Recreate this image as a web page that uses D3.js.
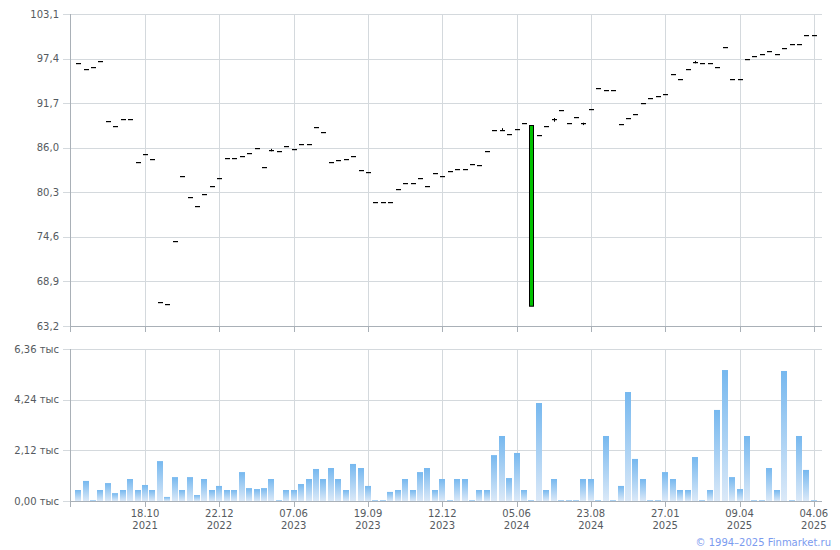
<!DOCTYPE html>
<html>
<head>
<meta charset="utf-8">
<script src="https://cdn.jsdelivr.net/npm/d3@7"></script>
<style>
  html, body { margin: 0; padding: 0; background: #fff; }
  svg { display: block; }
  text { font-family: "DejaVu Sans", Verdana, sans-serif; }
</style>
</head>
<body>
<svg id="chart" width="840" height="550"></svg>
<script>
// ---- data ----
const tickCategories = [9, 19, 29, 39, 49, 59, 69, 79, 89, 99];
const tickDates = ["18.10", "22.12", "07.06", "19.09", "12.12", "05.06", "23.08", "27.01", "09.04", "04.06"];
const tickYears = ["2021", "2022", "2023", "2023", "2023", "2024", "2024", "2025", "2025", "2025"];

const closes = [
  96.80, 96.07, 96.28, 97.09, 89.42, 88.74, 89.67, 89.67, 84.14, 85.16,
  84.52, 66.27, 65.98, 74.07, 82.38, 79.66, 78.51, 80.08, 81.10, 82.09,
  84.69, 84.69, 84.94, 85.28, 85.96, 83.54, 85.67, 85.58, 86.18, 85.80,
  86.44, 86.44, 88.65, 87.97, 84.14, 84.39, 84.52, 84.94, 83.11, 82.86,
  79.02, 79.02, 79.02, 80.68, 81.45, 81.45, 82.09, 81.10, 82.73, 82.38,
  83.00, 83.24, 83.24, 83.88, 83.75, 85.54, 88.23, 88.30, 87.71, 88.35,
  89.12, 88.87, 87.59, 88.74, 89.63, 90.82, 89.12, 89.89, 89.20, 90.95,
  93.60, 93.38, 93.38, 89.00, 89.76, 90.27, 91.68, 92.32, 92.58, 92.83,
  95.39, 94.75, 96.03, 96.92, 96.80, 96.80, 96.28, 98.84, 94.75, 94.75,
  97.31, 97.69, 97.95, 98.33, 97.95, 98.71, 99.23, 99.23, 100.38, 100.38
];
// opens equal closes except where a real body exists
const openOverrides = { 61: 65.76 };
// small wicks seen on a few candles
const highOverrides = { 26: 85.85, 57: 88.50, 64: 89.80, 68: 89.20, 83: 97.10 };
const lowOverrides  = { 26: 85.67, 57: 88.30, 64: 89.45, 68: 89.02, 83: 96.92 };

const volumes = [
  0.46, 0.84, 0.04, 0.46, 0.75, 0.33, 0.46, 0.92, 0.46, 0.67,
  0.46, 1.67, 0.17, 1.00, 0.46, 1.00, 0.25, 0.92, 0.46, 0.63,
  0.46, 0.46, 1.21, 0.54, 0.50, 0.54, 0.92, 0.04, 0.46, 0.46,
  0.71, 0.92, 1.34, 0.92, 1.38, 0.92, 0.46, 1.55, 1.38, 0.63,
  0.04, 0.04, 0.38, 0.46, 0.92, 0.46, 1.21, 1.38, 0.46, 0.92,
  0.04, 0.92, 0.92, 0.04, 0.46, 0.46, 1.92, 2.72, 0.96, 2.01,
  0.46, 0.04, 4.10, 0.46, 0.92, 0.04, 0.04, 0.04, 0.92, 0.92,
  0.04, 2.72, 0.04, 0.63, 4.56, 1.76, 0.92, 0.04, 0.04, 1.21,
  0.92, 0.46, 0.46, 1.84, 0.04, 0.46, 3.81, 5.48, 1.00, 0.50,
  2.72, 0.04, 0.04, 1.38, 0.46, 5.44, 0.04, 2.72, 1.30, 0.04
];

const priceTicks = [63.2, 68.9, 74.6, 80.3, 86.0, 91.7, 97.4, 103.1];
const volumeTicks = [0, 2.12, 4.24, 6.36];

// ---- layout ----
const svg = d3.select("#chart");
const L = 70, R = 822;
const P_TOP = 14, P_BOT = 326;
const V_TOP = 349, V_BOT = 501;
const GRID = "#d4d9dd", AXIS = "#a9b0b7", LABEL = "#555a60";

const n = closes.length;
const x = d3.scaleLinear().domain([-1.1, n + 0.1]).range([L, R]);
const yP = d3.scaleLinear().domain([63.2, 103.1]).range([P_TOP, P_BOT].reverse());
const yV = d3.scaleLinear().domain([0, 6.36]).range([V_BOT, V_TOP]);

const fmtP = v => d3.format(".1f")(v).replace(".", ",");
const fmtV = v => d3.format(".2f")(v).replace(".", ",") + " тыс";
const px = v => Math.round(v) + 0.5;

function panel(yScale, ticks, fmt, top, bottom, withLabels) {
  const g = svg.append("g");
  // horizontal grid + left ticks
  g.selectAll(".hg").data(ticks).join("line")
    .attr("x1", L - 7).attr("x2", R)
    .attr("y1", d => px(yScale(d))).attr("y2", d => px(yScale(d)))
    .attr("stroke", d => d === ticks[0] ? AXIS : GRID).attr("stroke-width", 1);
  // fix: bottom axis line only spans plot, left tick part stays grid-coloured
  g.selectAll(".lt").data(ticks).join("line")
    .attr("x1", L - 7).attr("x2", L)
    .attr("y1", d => px(yScale(d))).attr("y2", d => px(yScale(d)))
    .attr("stroke", GRID);
  // vertical grid + bottom ticks
  g.selectAll(".vg").data(tickCategories).join("line")
    .attr("x1", d => px(x(d))).attr("x2", d => px(x(d)))
    .attr("y1", top).attr("y2", bottom)
    .attr("stroke", GRID);
  g.selectAll(".bt").data(tickCategories).join("line")
    .attr("x1", d => px(x(d))).attr("x2", d => px(x(d)))
    .attr("y1", bottom).attr("y2", bottom + 6)
    .attr("stroke", AXIS);
  // left axis
  g.append("line").attr("x1", L + 0.5).attr("x2", L + 0.5)
    .attr("y1", top).attr("y2", bottom + 6).attr("stroke", AXIS);
  // y labels
  g.selectAll(".yl").data(ticks).join("text")
    .attr("x", L - 11).attr("y", d => yScale(d)).attr("dy", "0.35em")
    .attr("text-anchor", "end").attr("font-size", 10).attr("fill", LABEL)
    .text(fmt);
  if (withLabels) {
    g.selectAll(".xd").data(tickCategories).join("text")
      .attr("x", d => x(d)).attr("y", bottom + 16)
      .attr("text-anchor", "middle").attr("font-size", 10).attr("fill", LABEL)
      .text((d, i) => tickDates[i]);
    g.selectAll(".xy").data(tickCategories).join("text")
      .attr("x", d => x(d)).attr("y", bottom + 28)
      .attr("text-anchor", "middle").attr("font-size", 10).attr("fill", LABEL)
      .text((d, i) => tickYears[i]);
  }
  return g;
}

panel(yP, priceTicks, fmtP, P_TOP, P_BOT, false);
panel(yV, volumeTicks, fmtV, V_TOP, V_BOT, true);

// ---- candles ----
const candles = closes.map((c, i) => ({
  i, close: c,
  open: openOverrides[i] !== undefined ? openOverrides[i] : c,
  high: highOverrides[i] !== undefined ? highOverrides[i] : Math.max(c, openOverrides[i] ?? c),
  low: lowOverrides[i] !== undefined ? lowOverrides[i] : Math.min(c, openOverrides[i] ?? c)
}));
const cg = svg.append("g");
cg.selectAll(".wick").data(candles.filter(d => d.high !== d.low && d.open === d.close)).join("line")
  .attr("x1", d => px(x(d.i))).attr("x2", d => px(x(d.i)))
  .attr("y1", d => yP(d.high)).attr("y2", d => yP(d.low) + 1)
  .attr("stroke", "#000");
cg.selectAll(".dash").data(candles.filter(d => d.open === d.close)).join("rect")
  .attr("x", d => Math.round(x(d.i)) - 2).attr("width", 5)
  .attr("y", d => Math.round(yP(d.close))).attr("height", 1.2)
  .attr("fill", "#000");
cg.selectAll(".body").data(candles.filter(d => d.open !== d.close)).join("rect")
  .attr("x", d => Math.round(x(d.i)) - 1.5).attr("width", 4)
  .attr("y", d => Math.round(yP(Math.max(d.open, d.close))) + 0.5)
  .attr("height", d => Math.abs(yP(d.open) - yP(d.close)))
  .attr("fill", d => d.close > d.open ? "#00c000" : "#e00000")
  .attr("stroke", "#000").attr("stroke-width", 1);

// ---- volume bars ----
const defs = svg.append("defs");
const grad = defs.append("linearGradient").attr("id", "vgrad")
  .attr("x1", 0).attr("y1", 0).attr("x2", 0).attr("y2", 1);
grad.append("stop").attr("offset", "0%").attr("stop-color", "#76b8ef");
grad.append("stop").attr("offset", "100%").attr("stop-color", "#dbe9f8");
svg.append("g").selectAll("rect").data(volumes).join("rect")
  .attr("x", (d, i) => Math.round(x(i)) - 3).attr("width", 6)
  .attr("y", d => yV(d)).attr("height", d => V_BOT - yV(d))
  .attr("fill", "url(#vgrad)");

// ---- copyright ----
svg.append("text").attr("x", 831).attr("y", 546).attr("text-anchor", "end")
  .attr("font-size", 10).attr("fill", "#7b9bef")
  .text("© 1994–2025 Finmarket.ru");
</script>
</body>
</html>
